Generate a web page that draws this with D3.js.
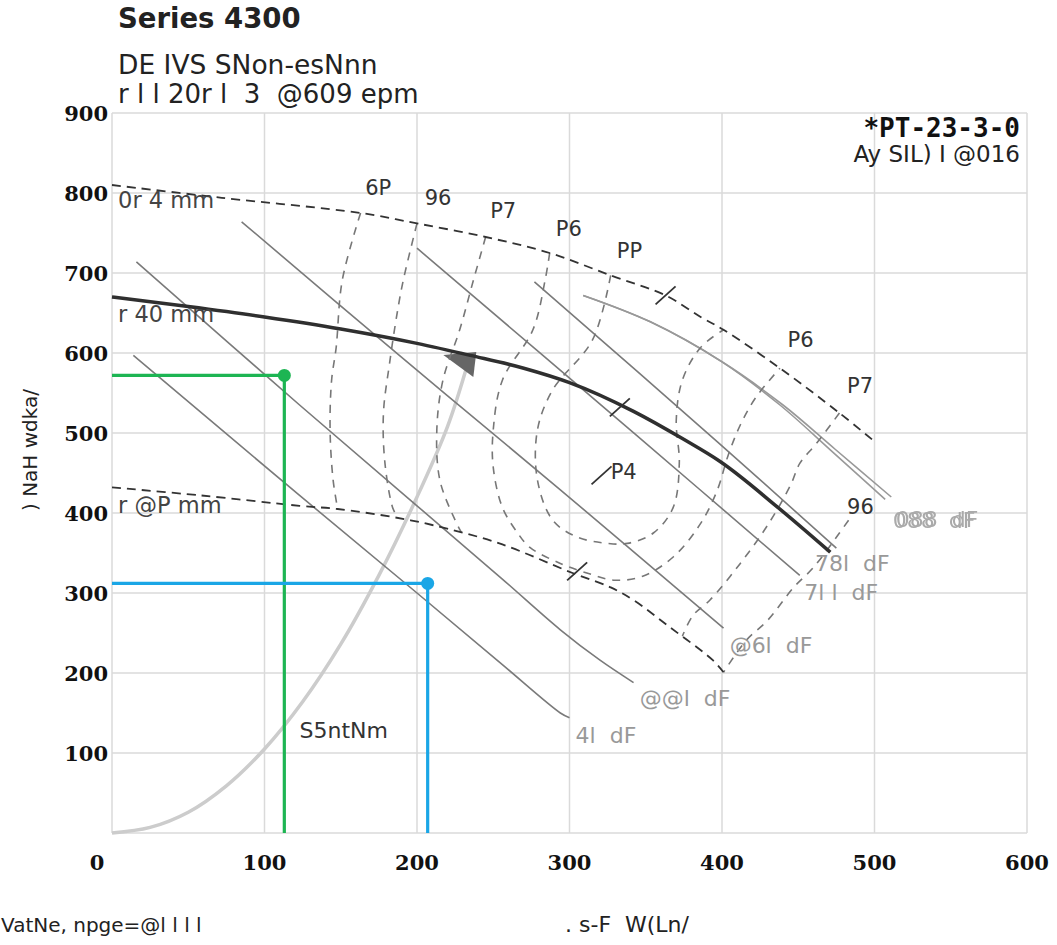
<!DOCTYPE html>
<html><head><meta charset="utf-8">
<script src="https://cdn.jsdelivr.net/npm/d3@7"></script>
<style>body{margin:0;background:#fff}svg{display:block}text{white-space:pre}</style>
</head><body>
<script>
// ---------- data ----------
const xTicks = [0, 100, 200, 300, 400, 500, 600];
const yTicks = [100, 200, 300, 400, 500, 600, 700, 800, 900];

// impeller curves (flow, head)
const maxDia = [[0,810],[72,794],[163,775],[200,762],[245,745],[287,725],[327,697],[363,672],[386,645],[401,629],[438,581],[477,525],[499,491]];
const minDia = [[0,432],[58,422],[123,409],[148,405],[184,395],[210,385],[254,362],[302,325],[327,307],[342,291],[366,257],[394,216],[401,201]];
const selDia = [[0,670],[50,658],[100,645],[150,630],[200,612],[235,597],[270,581],[300,563],[342,527],[374,493],[399,464],[436,408],[471,351]];

// power lines
const powA = [[16,714],[123,535],[200,409],[255,319],[294,254],[320,216],[342,188]];
const powB = [[14,597],[123,422],[200,300],[255,212],[294,150],[300,144]];
const powC = [[85,764],[189,596],[294,429],[401,256]];
const powD = [[200,731],[344,497],[451,322]];
const powE = [[277,689],[397,489],[475,356]];
const powF1 = [[309,672],[353,639],[400,589],[438,535],[471,479],[507,417]];
const powF2 = [[309,672],[353,639],[400,589],[440,535],[474,480],[511,420]];

// efficiency contours
const eff6P = [[163,775],[151,691],[147,607],[144,566],[143,504],[145,441],[148,405]];
const eff96L = [[200,762],[191,691],[187,650],[182,587],[178,525],[179,462],[184,407],[187,395]];
const eff96R = [[483,391],[477,375],[460,332],[447,307],[430,266],[416,241],[401,201]];
const effP7L = [[245,745],[237,691],[228,629],[217,566],[213,504],[215,441],[225,391],[229,376]];
const effP7R = [[477,525],[462,487],[451,462],[445,435],[430,385],[412,337],[392,291],[381,272],[374,246]];
const effP6 = [[287,725],[284,691],[276,629],[256,566],[250,504],[250,457],[256,407],[266,375],[274,357],[294,337],[313,324],[330,316],[348,321],[368,345],[386,387],[397,429],[404,472],[412,510],[422,544],[438,581]];
const effPP = [[327,697],[315,616],[289,554],[279,504],[279,441],[289,391],[305,370],[325,362],[338,362],[355,375],[368,407],[372,462],[370,516],[374,566],[386,607],[401,629]];

// best efficiency marks
const bepMarks = [[363,672],[333,532],[305,327],[321,447]];

// system curve
const systemCurve = [[0,0],[25,7],[50,26],[75,59],[100,105],[125,164],[150,236],[175,322],[200,420],[220,508],[233,585]];

// duty points
const dutyGreen = [113, 572];
const dutyBlue = [207, 312];

// labels (text, flow, head)
const diaLabels = [["0r 4 mm",4,781],["r 40 mm",4,639],["r @P mm",4,400]];
const effLabels = [["6P",166,797],["96",205,785],["P7",248,769],["P6",291,746],["PP",331,719],["P6",443,607],["P7",482,550],["96",482,399],["P4",327,442]];
const powLabels = [["4l  dF",304,112],["@@l  dF",346,159],["@6l  dF",405,225],["7l l  dF",454,291],["78l  dF",461,327]];
const doubleLabel = ["088  dF",512,381];
const sysLabel = ["S5ntNm",123,119];

// ---------- drawing ----------
const W = 1057, H = 945;
const svg = d3.select("body").append("svg").attr("width", W).attr("height", H);
const x = d3.scaleLinear().domain([0, 600]).range([112, 1027]);
const y = d3.scaleLinear().domain([0, 900]).range([833, 113]);
const sans = "DejaVu Sans, Verdana, sans-serif";

const defs = svg.append("defs");
const f = defs.append("filter").attr("id", "dbl").attr("x", "-10%").attr("y", "-20%").attr("width", "130%").attr("height", "140%");
f.append("feOffset").attr("in", "SourceGraphic").attr("dx", 3).attr("dy", -1).attr("result", "o");
const fm = f.append("feMerge");
fm.append("feMergeNode").attr("in", "SourceGraphic");
fm.append("feMergeNode").attr("in", "o");

// grid
const g = svg.append("g");
g.selectAll("line.v").data(xTicks).join("line")
  .attr("x1", d => x(d)).attr("x2", d => x(d)).attr("y1", y(0)).attr("y2", y(900))
  .attr("stroke", "#dadada").attr("stroke-width", 1.5);
g.selectAll("line.h").data([0].concat(yTicks)).join("line")
  .attr("x1", x(0)).attr("x2", x(600)).attr("y1", d => y(d)).attr("y2", d => y(d))
  .attr("stroke", "#dadada").attr("stroke-width", 1.5);

// tick labels
svg.selectAll("text.yt").data(yTicks).join("text")
  .attr("x", x(0) - 4).attr("y", d => y(d) + 8).attr("text-anchor", "end")
  .attr("font-family", "DejaVu Serif, serif").attr("font-weight", "bold").attr("font-size", 21)
  .attr("fill", "#111").text(d => d);
svg.selectAll("text.xt").data(xTicks).join("text")
  .attr("x", d => x(d) + (d === 0 ? -15 : 0)).attr("y", 870).attr("text-anchor", "middle")
  .attr("font-family", "DejaVu Serif, serif").attr("font-weight", "bold").attr("font-size", 21)
  .attr("fill", "#111").text(d => d);

const smooth = d3.line().x(d => x(d[0])).y(d => y(d[1])).curve(d3.curveCatmullRom.alpha(0.5));
const mono = d3.line().x(d => x(d[0])).y(d => y(d[1])).curve(d3.curveMonotoneX);

// system curve
svg.append("path").attr("d", smooth(systemCurve)).attr("fill", "none")
  .attr("stroke", "#cccccc").attr("stroke-width", 3.5);
const se = systemCurve[systemCurve.length - 1];
const ex = x(se[0]), ey = y(se[1]);
svg.append("path").attr("d", `M${ex-24},${ey-10}L${ex+9},${ey-13}L${ex+6},${ey+12}Z`).attr("fill", "#666");

// power lines
[powA, powB, powC, powD, powE].forEach(p => svg.append("path").attr("d", smooth(p))
  .attr("fill", "none").attr("stroke", "#7a7a7a").attr("stroke-width", 1.6));
[powF1, powF2].forEach(p => svg.append("path").attr("d", smooth(p))
  .attr("fill", "none").attr("stroke", "#999").attr("stroke-width", 1.6));

// efficiency contours
[eff6P, eff96L, eff96R, effP7L, effP7R, effP6, effPP].forEach(p => svg.append("path").attr("d", smooth(p))
  .attr("fill", "none").attr("stroke", "#777").attr("stroke-width", 1.6).attr("stroke-dasharray", "8,7"));

// diameter limits
[maxDia, minDia].forEach(p => svg.append("path").attr("d", smooth(p))
  .attr("fill", "none").attr("stroke", "#333").attr("stroke-width", 1.8).attr("stroke-dasharray", "9,6"));

// selected impeller
svg.append("path").attr("d", mono(selDia)).attr("fill", "none")
  .attr("stroke", "#2f2f2f").attr("stroke-width", 3.5);

// BEP marks
svg.selectAll("line.bep").data(bepMarks).join("line")
  .attr("x1", d => x(d[0]) - 10).attr("y1", d => y(d[1]) + 9)
  .attr("x2", d => x(d[0]) + 10).attr("y2", d => y(d[1]) - 9)
  .attr("stroke", "#333").attr("stroke-width", 1.8);

// duty points
[[dutyGreen, "#1db553"], [dutyBlue, "#1aa6e6"]].forEach(([d, c]) => {
  svg.append("path").attr("d", `M${x(0)},${y(d[1])}H${x(d[0])}V${y(0)}`)
    .attr("fill", "none").attr("stroke", c).attr("stroke-width", 3.2);
  svg.append("circle").attr("cx", x(d[0])).attr("cy", y(d[1])).attr("r", 6.5).attr("fill", c);
});

// labels
svg.selectAll("text.dl").data(diaLabels).join("text")
  .attr("x", d => x(d[1])).attr("y", d => y(d[2])).attr("font-family", sans).attr("font-size", 22.5)
  .attr("fill", "#444").text(d => d[0]);
svg.selectAll("text.el").data(effLabels).join("text")
  .attr("x", d => x(d[1])).attr("y", d => y(d[2])).attr("font-family", sans).attr("font-size", 21)
  .attr("fill", "#333").text(d => d[0]);
svg.selectAll("text.pl").data(powLabels).join("text")
  .attr("x", d => x(d[1])).attr("y", d => y(d[2])).attr("font-family", sans).attr("font-size", 22)
  .attr("fill", "#999").text(d => d[0]);
svg.append("text").attr("x", x(doubleLabel[1])).attr("y", y(doubleLabel[2]))
  .attr("font-family", sans).attr("font-size", 22).attr("fill", "#aaa").attr("filter", "url(#dbl)").text(doubleLabel[0]);
svg.append("text").attr("x", x(sysLabel[1])).attr("y", y(sysLabel[2]))
  .attr("font-family", sans).attr("font-size", 22).attr("fill", "#333").text(sysLabel[0]);

// titles
svg.append("text").attr("x", 118).attr("y", 28).attr("font-family", sans).attr("font-weight", "bold")
  .attr("font-size", 27.5).attr("fill", "#222").text("Series 4300");
svg.append("text").attr("x", 118).attr("y", 74).attr("font-family", sans)
  .attr("font-size", 26.5).attr("fill", "#222").text("DE IVS SNon-esNnn");
svg.append("text").attr("x", 118).attr("y", 103).attr("font-family", sans)
  .attr("font-size", 26).attr("fill", "#222").text("r l l 20r l  3  @609 epm");
svg.append("text").attr("x", 1020).attr("y", 137).attr("text-anchor", "end").attr("font-family", "DejaVu Sans Mono, monospace")
  .attr("font-weight", "bold").attr("font-size", 26).attr("fill", "#111").text("*PT-23-3-0");
svg.append("text").attr("x", 1020).attr("y", 162).attr("text-anchor", "end").attr("font-family", sans)
  .attr("font-size", 23).attr("fill", "#222").text("Ay SIL) I @016");

// axis titles
svg.append("text").attr("transform", "translate(37,450) rotate(-90)").attr("text-anchor", "middle")
  .attr("font-family", sans).attr("font-size", 20).attr("fill", "#222").text(") NaH wdka/");
svg.append("text").attr("x", 1).attr("y", 932).attr("font-family", sans)
  .attr("font-size", 20).attr("fill", "#222").text("VatNe, npge=@l l l l");
svg.append("text").attr("x", 565).attr("y", 932).attr("font-family", sans)
  .attr("font-size", 22).attr("fill", "#222").text(". s-F  W(Ln/");
</script>
</body></html>
